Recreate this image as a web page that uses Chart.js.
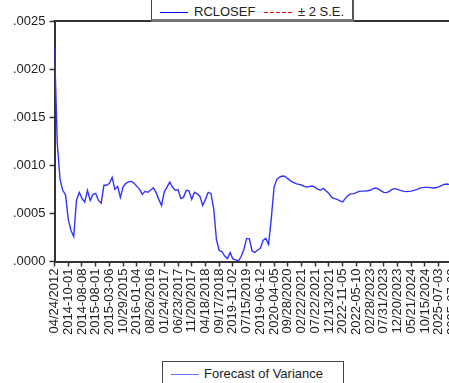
<!DOCTYPE html>
<html>
<head>
<meta charset="utf-8">
<script src="https://cdn.jsdelivr.net/npm/chart.js@4.4.1/dist/chart.umd.min.js"></script>
<style>
  html, body { margin: 0; padding: 0; background: #fff; overflow: hidden; }
  #wrap { position: relative; width: 449px; height: 383px; overflow: hidden; }
  #chart { position: absolute; left: 0; top: 0; }
  .legend {
    position: absolute; background: #fff; border: 1px solid #444;
    font: 13px "Liberation Sans", Arial, sans-serif; color: #222;
    box-sizing: border-box;
  }
  .legend span { position: absolute; white-space: nowrap; }
  .sample { position: absolute; height: 1px; }
</style>
</head>
<body>
<div id="wrap">
  <canvas id="chart" width="470" height="383" style="width:470px;height:383px"></canvas>

  <!-- top legend -->
  <div class="legend" style="left:151px; top:-8px; width:203px; height:30px; border-bottom:3px solid #777; border-right:2px solid #555;">
    <div class="sample" style="left:8px; top:19px; width:28px; background:#0000ee;"></div>
    <span style="left:42px; top:11px;">RCLOSEF</span>
    <div class="sample" style="left:112px; top:19px; width:28px; background:repeating-linear-gradient(to right, #ee0000 0 4px, transparent 4px 6px);"></div>
    <span style="left:146px; top:11px;">± 2 S.E.</span>
  </div>

  <!-- bottom legend -->
  <div class="legend" style="left:162px; top:361px; width:182px; height:30px;">
    <div class="sample" style="left:8px; top:12px; width:28px; background:#6a6aff;"></div>
    <span style="left:41px; top:4px;">Forecast of Variance</span>
  </div>
</div>

<script>
// tick labels on the date axis (one every 5 observations)
const tickLabels = [
  "04/24/2012", "2014-10-01", "2014-08-08", "2015-08-01", "2015-03-06",
  "10/29/2015", "2016-01-04", "08/26/2016", "01/24/2017", "06/23/2017",
  "11/20/2017", "04/18/2018", "09/17/2018", "2019-11-02", "07/15/2019",
  "2019-06-12", "2020-04-05", "09/28/2020", "02/22/2021", "07/22/2021",
  "12/13/2021", "2022-11-05", "2022-05-10", "02/28/2023", "07/31/2023",
  "12/20/2023", "05/21/2024", "10/15/2024", "2025-07-03", "2025-07-08"
];
const pointsPerTick = 5;

// forecast of variance
const variance = [
  .002232, .001229, .000854, .000740, .000693, .000438, .000323, .000260, .000635, .000719,
  .000656, .000618, .000740, .000635, .000698, .000708, .000635, .000607, .000792, .000792,
  .000813, .000875, .000750, .000781, .000667, .000776, .000813, .000828, .000833, .000813,
  .000781, .000750, .000698, .000729, .000719, .000740, .000766, .000719, .000646, .000583,
  .000724, .000774, .000826, .000771, .000740, .000747, .000656, .000667, .000740, .000734,
  .000646, .000719, .000703, .000677, .000583, .000646, .000719, .000708, .000552, .000229,
  .000115, .000104, .000057, .000031, .000094, .000026, .000016, .000005, .000052, .000125,
  .000240, .000236, .000109, .000094, .000120, .000135, .000219, .000240, .000177, .000448,
  .000771, .000854, .000878, .000889, .000885, .000861, .000839, .000823, .000809, .000802,
  .000795, .000781, .000774, .000781, .000784, .000771, .000750, .000743, .000760, .000732,
  .000708, .000667, .000653, .000646, .000630, .000620, .000656, .000688, .000703, .000705,
  .000716, .000729, .000732, .000732, .000735, .000740, .000755, .000764, .000755, .000734,
  .000719, .000716, .000729, .000750, .000757, .000750, .000740, .000732, .000726, .000729,
  .000732, .000740, .000747, .000760, .000768, .000771, .000771, .000768, .000764, .000766,
  .000776, .000789, .000802, .000805, .000799, .000795
];

const yMin = 0;
const yMax = 0.0025;
const yStep = 0.0005;

// top frame line of the plot
const frameTop = {
  id: "frameTop",
  afterDraw(chart) {
    const { ctx, chartArea } = chart;
    ctx.save();
    ctx.strokeStyle = "#333";
    ctx.lineWidth = 2;
    ctx.beginPath();
    ctx.moveTo(chartArea.left - 1, chartArea.top);
    ctx.lineTo(chartArea.right + 2, chartArea.top);
    ctx.stroke();
    ctx.restore();
  }
};

const font = { family: "'Liberation Sans', Arial, sans-serif", size: 13 };

new Chart(document.getElementById("chart"), {
  type: "line",
  data: {
    labels: variance.map((_, i) => i),
    datasets: [{
      label: "Forecast of Variance",
      data: variance,
      borderColor: "#3333ff",
      borderWidth: 1.4,
      pointRadius: 0,
      tension: 0,
      fill: false
    }]
  },
  options: {
    responsive: false,
    animation: false,
    layout: { padding: { left: 9, right: 13, top: 21, bottom: 46 } },
    plugins: {
      legend: { display: false },
      tooltip: { enabled: false }
    },
    scales: {
      x: {
        type: "linear",
        min: 0,
        max: variance.length - 1,
        grid: { drawOnChartArea: false, drawTicks: true, tickLength: 5, tickColor: "#333", tickWidth: 1.5 },
        border: { display: true, color: "#333", width: 2 },
        ticks: {
          stepSize: pointsPerTick,
          autoSkip: false,
          maxRotation: 90,
          minRotation: 90,
          padding: 2,
          color: "#222",
          font: font,
          callback: v => tickLabels[Math.round(v / pointsPerTick)]
        }
      },
      y: {
        min: yMin,
        max: yMax,
        grid: { drawOnChartArea: false, drawTicks: true, tickLength: 5, tickColor: "#333", tickWidth: 1.5 },
        border: { display: true, color: "#333", width: 2 },
        ticks: {
          stepSize: yStep,
          padding: 4,
          color: "#222",
          font: font,
          callback: v => v.toFixed(4).replace(/^0/, "")
        }
      }
    }
  },
  plugins: [frameTop]
});
</script>
</body>
</html>
